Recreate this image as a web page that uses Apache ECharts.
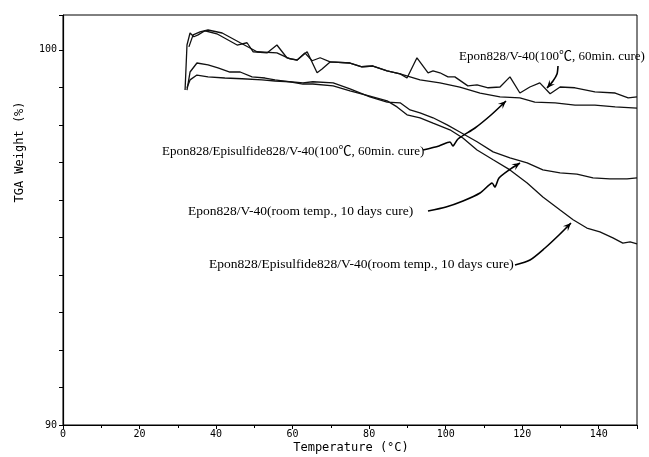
<!DOCTYPE html>
<html>
<head>
<meta charset="utf-8">
<script src="https://cdn.jsdelivr.net/npm/echarts@6/dist/echarts.min.js"></script>
<style>html,body{margin:0;padding:0;background:#fff}#c{width:649px;height:457px}</style>
</head>
<body>
<div id="c"></div>
<script>
// Epon828/V-40 (100°C, 60 min cure)
const tempA = [31.9,32.4,33.2,34.2,35.3,37.1,40.2,45.5,48.1,49.7,53.3,55.9,58.5,61.2,63.8,66.4,67.7,69.8,75.0,78.1,81.0,84.7,88.1,89.9,92.5,95.4,96.7,98.5,100.6,102.4,105.8,108.2,111.1,114.2,116.8,119.4,122.0,124.6,127.3,129.9,133.8,139.0,144.3,147.7,150];
const weightA = [98.93,100.13,100.45,100.35,100.40,100.51,100.43,100.13,100.19,99.95,99.92,100.13,99.79,99.73,99.95,99.39,99.49,99.68,99.65,99.55,99.57,99.44,99.36,99.25,99.79,99.39,99.44,99.39,99.28,99.28,99.04,99.07,98.99,99.01,99.28,98.85,99.01,99.12,98.83,99.01,98.99,98.88,98.85,98.72,98.75];
// Epon828/Episulfide828/V-40 (100°C, 60 min cure)
const tempB = [32.9,34.0,35.8,37.9,41.6,46.3,50.7,55.9,59.3,61.2,63.2,65.1,67.2,69.8,75.0,78.1,81.0,84.7,88.1,93.3,98.5,103.7,109.0,114.2,119.4,123.3,128.6,133.8,139.0,144.3,150];
const weightB = [100.08,100.40,100.48,100.53,100.45,100.19,99.95,99.92,99.76,99.73,99.92,99.71,99.79,99.68,99.65,99.55,99.57,99.44,99.36,99.20,99.12,99.01,98.85,98.75,98.72,98.61,98.59,98.53,98.53,98.48,98.45];
// Epon828/V-40 (room temp., 10 days cure)
const tempC = [32.4,33.2,35.0,37.9,40.5,43.6,46.3,49.4,52.8,55.4,59.3,62.7,65.3,70.6,75.0,80.2,84.7,88.1,90.7,93.3,96.7,100.4,103.7,108.2,112.4,116.8,121.3,125.4,129.9,134.3,138.5,142.9,147.4,150];
const weightC = [98.93,99.41,99.65,99.60,99.52,99.41,99.41,99.28,99.25,99.20,99.15,99.12,99.15,99.12,98.96,98.75,98.61,98.59,98.40,98.32,98.19,98.00,97.81,97.55,97.28,97.12,96.99,96.80,96.72,96.69,96.59,96.56,96.56,96.59];
// Epon828/Episulfide828/V-40 (room temp., 10 days cure)
const tempD = [32.4,33.2,35.0,37.9,42.3,46.8,52.0,55.4,59.3,62.7,65.3,70.6,75.0,80.2,84.7,87.3,89.9,93.3,96.7,101.1,104.5,108.2,112.4,116.8,121.3,125.4,129.9,133.3,136.9,140.3,143.7,146.3,148.2,150];
const weightD = [98.99,99.20,99.33,99.28,99.25,99.23,99.20,99.17,99.15,99.09,99.09,99.04,98.91,98.77,98.64,98.48,98.27,98.19,98.05,97.87,97.65,97.33,97.07,96.80,96.45,96.08,95.73,95.47,95.25,95.15,94.99,94.85,94.88,94.83];

const seriesNames = [
  'Epon828/V-40(100\u2103, 60min. cure)',
  'Epon828/Episulfide828/V-40(100\u2103, 60min. cure)',
  'Epon828/V-40(room temp., 10 days cure)',
  'Epon828/Episulfide828/V-40(room temp., 10 days cure)'
];
const xTickLabels = ['0','20','40','60','80','100','120','140'];
const yTickLabels = ['90','100'];

function zip(t, w){ return t.map((v,i)=>[v,w[i]]); }

const chart = echarts.init(document.getElementById('c'), null, {renderer:'canvas'});
const lineStyle = {color:'#111', width:1.3};
const mk = (name, t, w) => ({name, type:'line', data: zip(t,w), showSymbol:false, symbol:'none', lineStyle, itemStyle:{color:'#111'}, animation:false, z:3});

// annotation layouts (pixel positions, font sizes & arrow paths)
const labelPos = [[459,57],[162,152],[188,211],[209,264]];
const labelSize = [13,13,13.5,13.5];
const arrowPaths = [
  [[558,66],[557,74],[553,81],[547,88]],
  [[423,150],[439,146],[450,142],[453,146],[458,139],[475,128],[491,115],[506,101]],
  [[428,211],[446,207],[463,201],[480,193],[492,183],[495,187],[499,178],[509,170],[520,163]],
  [[515,265],[530,260],[545,248],[559,235],[571,223]]
];

function arrowHead(p, q){
  const dx=q[0]-p[0], dy=q[1]-p[1], L=Math.hypot(dx,dy), ux=dx/L, uy=dy/L;
  const len=8, wid=3.5;
  const bx=q[0]-ux*len, by=q[1]-uy*len;
  return [[q[0],q[1]],[bx-uy*wid,by+ux*wid],[q[0]-ux*len*0.6,q[1]-uy*len*0.6],[bx+uy*wid,by-ux*wid]];
}

const graphics = [];
seriesNames.forEach((n,i)=>{
  graphics.push({type:'text', x:labelPos[i][0], y:labelPos[i][1], style:{text:n, font:labelSize[i]+'px "Liberation Serif", "Noto Sans CJK SC", serif', fill:'#000', textVerticalAlign:'middle', textAlign:'left'}, z:10});
  const pts = arrowPaths[i];
  graphics.push({type:'polyline', shape:{points:pts, smooth:0.25}, style:{stroke:'#000', lineWidth:1.6, fill:null}, z:10});
  graphics.push({type:'polygon', shape:{points:arrowHead(pts[pts.length-2], pts[pts.length-1])}, style:{fill:'#000'}, z:10});
});
graphics.push({type:'text', x:20, y:152, rotation:Math.PI/2, style:{text:'TGA Weight (%)', font:'12px "DejaVu Sans Mono", monospace', fill:'#000', textAlign:'center', textVerticalAlign:'middle'}, z:10});
graphics.push({type:'text', x:351, y:448, style:{text:'Temperature (\u00B0C)', font:'12px "DejaVu Sans Mono", monospace', fill:'#000', textAlign:'center', textVerticalAlign:'middle'}, z:10});

chart.setOption({
  animation:false,
  backgroundColor:'#fff',
  grid:{left:63, right:12, top:15, bottom:32, show:true, borderColor:'#000', borderWidth:1, backgroundColor:'transparent'},
  xAxis:{type:'value', min:0, max:150, interval:20,
    axisLine:{show:true, onZero:false, lineStyle:{color:'#000', width:1.2}},
    axisTick:{show:true, length:4, lineStyle:{color:'#000'}},
    minorTick:{show:true, splitNumber:2, length:3, lineStyle:{color:'#000'}},
    splitLine:{show:false},
    axisLabel:{color:'#000', fontSize:10, fontFamily:'"DejaVu Sans Mono", monospace', margin:4, showMaxLabel:false,
      formatter:v=> xTickLabels.includes(String(v)) ? String(v) : ''}
  },
  yAxis:{type:'value', min:90, max:100.93, interval:1,
    axisLine:{show:true, onZero:false, lineStyle:{color:'#000', width:1.2}},
    axisTick:{show:true, length:4, lineStyle:{color:'#000'}},
    splitLine:{show:false},
    axisLabel:{color:'#000', fontSize:10, fontFamily:'"DejaVu Sans Mono", monospace', margin:6,
      formatter:v=> yTickLabels.includes(String(v)) ? String(v) : ''}
  },
  series:[mk(seriesNames[0],tempA,weightA), mk(seriesNames[1],tempB,weightB), mk(seriesNames[2],tempC,weightC), mk(seriesNames[3],tempD,weightD)],
  graphic: graphics
});
</script>
</body>
</html>
